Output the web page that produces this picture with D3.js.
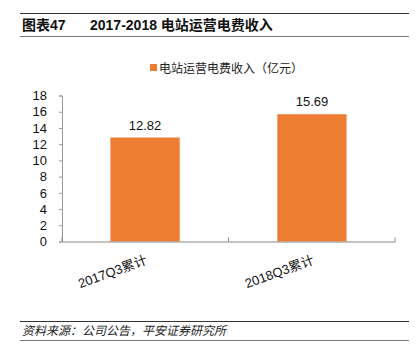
<!DOCTYPE html>
<meta charset="utf-8">
<body style="margin:0;background:#fff">
<script src="https://cdn.jsdelivr.net/npm/d3@7"></script>
<script>
// data
var categories = ["2017Q3累计", "2018Q3累计"];
var values = [12.82, 15.69];
var yTicks = [0, 2, 4, 6, 8, 10, 12, 14, 16, 18];
var seriesName = "电站运营电费收入（亿元）";

var W = 419, H = 361;
var font = "'Liberation Sans', 'Noto Sans CJK SC', sans-serif";
var orange = "#ED7D31";

var svg = d3.select("body").append("svg")
	.attr("width", W).attr("height", H)
	.style("font-family", font);

// title block
svg.append("line").attr("x1", 20).attr("x2", 409).attr("y1", 13.5).attr("y2", 13.5)
	.attr("stroke", "#333").attr("stroke-width", 1);
svg.append("line").attr("x1", 20).attr("x2", 409).attr("y1", 36.5).attr("y2", 36.5)
	.attr("stroke", "#777").attr("stroke-width", 1);
svg.append("text").attr("x", 22).attr("y", 30)
	.attr("font-size", 14).attr("font-weight", "bold").attr("fill", "#111")
	.text("图表47");
svg.append("text").attr("x", 90).attr("y", 30)
	.attr("font-size", 14).attr("font-weight", "bold").attr("fill", "#111")
	.text("2017-2018 电站运营电费收入");

// scales
var x = d3.scaleBand().domain(categories).range([62, 395]).paddingInner(0.585).paddingOuter(0.29);
var y = d3.scaleLinear().domain([0, 18]).range([241.5, 95.5]);

// legend
svg.append("rect").attr("x", 150).attr("y", 64).attr("width", 7).attr("height", 7).attr("fill", orange);
svg.append("text").attr("x", 159).attr("y", 72.5).attr("font-size", 12).attr("fill", "#222")
	.text(seriesName);

// bars
svg.selectAll("rect.bar").data(values).enter().append("rect")
	.attr("class", "bar")
	.attr("x", function(d, i){ return x(categories[i]); })
	.attr("width", x.bandwidth())
	.attr("y", function(d){ return y(d); })
	.attr("height", function(d){ return y(0) - y(d); })
	.attr("fill", orange);

svg.selectAll("text.val").data(values).enter().append("text")
	.attr("class", "val")
	.attr("x", function(d, i){ return x(categories[i]) + x.bandwidth() / 2; })
	.attr("y", function(d){ return y(d) - 8; })
	.attr("text-anchor", "middle")
	.attr("font-size", 13).attr("fill", "#111")
	.text(function(d){ return d.toFixed(2); });

// y axis
var yAxis = svg.append("g").attr("transform", "translate(62,0)")
	.call(d3.axisLeft(y).tickValues(yTicks).tickSize(3).tickPadding(12));
yAxis.selectAll("text").attr("font-size", 13).attr("fill", "#111").style("font-family", font);
yAxis.selectAll("line").attr("stroke", "#999");
yAxis.select(".domain").attr("stroke", "#999");

// x axis
var xb = d3.scaleBand().domain(categories).range([62, 395]);
var xAxis = svg.append("g").attr("transform", "translate(0," + y(0) + ")")
	.call(d3.axisBottom(xb).tickSize(0).tickFormat(""));
xAxis.select(".domain").attr("stroke", "#888");
// boundary ticks
xAxis.selectAll("line.b").data([62, 228.5, 395]).enter().append("line")
	.attr("class", "b")
	.attr("x1", function(d){ return d; }).attr("x2", function(d){ return d; })
	.attr("y1", 0).attr("y2", -4).attr("stroke", "#888");

svg.selectAll("text.xl").data(categories).enter().append("text")
	.attr("class", "xl")
	.attr("transform", function(d){
		return "translate(" + (x(d) + x.bandwidth() / 2 + 3) + "," + (y(0) + 22) + ") rotate(-20)";
	})
	.attr("text-anchor", "end")
	.attr("font-size", 13).attr("fill", "#111")
	.text(function(d){ return d; });

// source
svg.append("line").attr("x1", 20).attr("x2", 409).attr("y1", 321.5).attr("y2", 321.5)
	.attr("stroke", "#333");
svg.append("line").attr("x1", 20).attr("x2", 409).attr("y1", 340.5).attr("y2", 340.5)
	.attr("stroke", "#777");
svg.append("text").attr("x", 22).attr("y", 335)
	.attr("font-size", 12).attr("font-style", "italic").attr("fill", "#222")
	.text("资料来源：公司公告，平安证券研究所");
</script>
</body>
